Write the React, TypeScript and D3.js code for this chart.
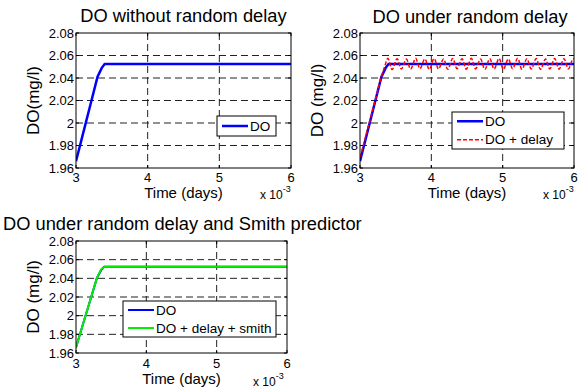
import React from "react";
import * as d3 from "d3";

// ---------- data ----------
const xTicks = [3, 4, 5, 6];
const yTicks = [1.96, 1.98, 2, 2.02, 2.04, 2.06, 2.08];
const yTickLabels = ["1.96", "1.98", "2", "2.02", "2.04", "2.06", "2.08"];
const xTickLabels = ["3", "4", "5", "6"];

const doTime = [3.0, 3.1, 3.2, 3.3, 3.36, 3.4, 6.0];
const doValue = [1.966, 1.991, 2.016, 2.041, 2.049, 2.0525, 2.0525];

const delayTime = [
  3.0, 3.1, 3.2, 3.3, 3.35, 3.39,
  3.45, 3.52, 3.58, 3.65, 3.71, 3.78, 3.84, 3.91, 3.97, 4.04,
  4.10, 4.17, 4.23, 4.30, 4.36, 4.43, 4.49, 4.56, 4.62, 4.69,
  4.75, 4.82, 4.88, 4.95, 5.01, 5.08, 5.14, 5.21, 5.27, 5.34,
  5.40, 5.47, 5.53, 5.60, 5.66, 5.73, 5.79, 5.86, 5.92, 5.99, 6.0,
];
const delayValue = [
  1.969, 1.993, 2.017, 2.041, 2.051, 2.0575,
  2.0475, 2.0572, 2.048, 2.0568, 2.0478, 2.0575, 2.0482, 2.057, 2.0476, 2.0573,
  2.048, 2.0569, 2.0477, 2.0574, 2.0483, 2.0571, 2.0478, 2.0575, 2.0481, 2.0568,
  2.0476, 2.0572, 2.048, 2.0574, 2.0478, 2.057, 2.0482, 2.0575, 2.0477, 2.0571,
  2.048, 2.0573, 2.0476, 2.0569, 2.0481, 2.0574, 2.0478, 2.0572, 2.048, 2.057, 2.0565,
];

const smithTime = [3.0, 3.1, 3.2, 3.3, 3.36, 3.41, 6.0];
const smithValue = [1.966, 1.991, 2.016, 2.041, 2.05, 2.0525, 2.0525];

const titles = [
  "DO without random delay",
  "DO under random delay",
  "DO under random delay and Smith predictor",
];
const yLabels = ["DO(mg/l)", "DO (mg/l)", "DO (mg/l)"];
const xLabel = "Time (days)";
const legend1 = ["DO"];
const legend2 = ["DO", "DO + delay"];
const legend3 = ["DO", "DO + delay + smith"];

// ---------- styling ----------
const FONT = "'Liberation Sans', Arial, Helvetica, sans-serif";
const BLUE = "#0000ff";
const RED = "#ff0000";
const GREEN = "#00f000";

type Series = { t: number[]; v: number[]; color: string; width: number; dash?: string; curve?: any };

type PanelProps = {
  left: number; right: number; top: number; bottom: number;
  title: string; titleX: number; titleY: number; titleAnchor: string;
  yLabel: string; yLabelX: number;
  xTickDy: number; xLabelDy: number; expDy: number; expX: number;
  series: Series[];
  legendNames: string[];
  legend: { x: number; y: number; w: number; h: number };
};

function Panel(p: PanelProps) {
  const x = d3.scaleLinear().domain([3, 6]).range([p.left, p.right]);
  const y = d3.scaleLinear().domain([1.96, 2.08]).range([p.bottom, p.top]);
  const innerX = xTicks.slice(1, -1);
  const innerY = yTicks.slice(1, -1);
  const clipId = "clip" + p.left + "_" + p.top;
  const tickLen = 3;
  return (
    <g>
      <defs>
        <clipPath id={clipId}>
          <rect x={p.left} y={p.top} width={p.right - p.left} height={p.bottom - p.top} />
        </clipPath>
      </defs>
      <rect x={p.left} y={p.top} width={p.right - p.left} height={p.bottom - p.top} fill="#fff" />
      {/* grid */}
      {innerX.map((t) => (
        <line key={"gx" + t} x1={x(t)} x2={x(t)} y1={p.top} y2={p.bottom}
          stroke="#222" strokeWidth={1} strokeDasharray="7,4" />
      ))}
      {innerY.map((v) => (
        <line key={"gy" + v} x1={p.left} x2={p.right} y1={y(v)} y2={y(v)}
          stroke="#222" strokeWidth={1} strokeDasharray="7,4" />
      ))}
      {/* series */}
      <g clipPath={`url(#${clipId})`}>
        {p.series.map((s, i) => {
          const pts = s.t.map((t, j) => [t, s.v[j]] as [number, number]);
          const gen = d3.line<[number, number]>().x((d) => x(d[0])).y((d) => y(d[1]))
            .curve(s.curve || d3.curveLinear);
          return (
            <path key={i} d={gen(pts) || ""} fill="none" stroke={s.color}
              strokeWidth={s.width} strokeDasharray={s.dash} strokeLinejoin="round" />
          );
        })}
      </g>
      {/* ticks */}
      {xTicks.map((t) => (
        <g key={"tx" + t}>
          <line x1={x(t)} x2={x(t)} y1={p.bottom} y2={p.bottom - tickLen} stroke="#000" />
          <line x1={x(t)} x2={x(t)} y1={p.top} y2={p.top + tickLen} stroke="#000" />
        </g>
      ))}
      {yTicks.map((v) => (
        <g key={"ty" + v}>
          <line x1={p.left} x2={p.left + tickLen} y1={y(v)} y2={y(v)} stroke="#000" />
          <line x1={p.right} x2={p.right - tickLen} y1={y(v)} y2={y(v)} stroke="#000" />
        </g>
      ))}
      <rect x={p.left} y={p.top} width={p.right - p.left} height={p.bottom - p.top}
        fill="none" stroke="#000" strokeWidth={1} />
      {/* tick labels */}
      {xTicks.map((t, i) => (
        <text key={"lx" + t} x={x(t)} y={p.bottom + p.xTickDy} textAnchor="middle"
          fontSize={13} fontFamily={FONT}>{xTickLabels[i]}</text>
      ))}
      {yTicks.map((v, i) => (
        <text key={"ly" + v} x={p.left - 2} y={y(v)} textAnchor="end" dominantBaseline="central"
          fontSize={13} fontFamily={FONT}>{yTickLabels[i]}</text>
      ))}
      {/* labels */}
      <text x={p.titleX} y={p.titleY} textAnchor={p.titleAnchor} fontSize={18.3} fontFamily={FONT}>{p.title}</text>
      <text transform={`translate(${p.yLabelX},${(p.top + p.bottom) / 2}) rotate(-90)`}
        textAnchor="middle" dominantBaseline="central" fontSize={17} fontFamily={FONT}>{p.yLabel}</text>
      <text x={(p.left + p.right) / 2} y={p.bottom + p.xLabelDy} textAnchor="middle"
        fontSize={15} fontFamily={FONT}>{xLabel}</text>
      <text x={p.expX} y={p.bottom + p.expDy} fontSize={12} fontFamily={FONT}>
        x 10<tspan dy={-7} fontSize={9}>-3</tspan>
      </text>
      {/* legend */}
      <rect x={p.legend.x} y={p.legend.y} width={p.legend.w} height={p.legend.h}
        fill="#fff" stroke="#000" strokeWidth={1} />
      {p.legendNames.map((name, i) => {
        const s = p.series[i];
        const rowH = p.legend.h / p.legendNames.length;
        const cy = p.legend.y + rowH * (i + 0.5);
        return (
          <g key={name}>
            <line x1={p.legend.x + 5} x2={p.legend.x + 31} y1={cy} y2={cy}
              stroke={s.color} strokeWidth={s.width} strokeDasharray={s.dash} />
            <text x={p.legend.x + 33} y={cy} dominantBaseline="central" fontSize={13.5}
              fontFamily={FONT}>{name}</text>
          </g>
        );
      })}
    </g>
  );
}

export default function App() {
  return (
    <svg width={579} height={389} style={{ position: "absolute", left: 0, top: 0, background: "#fff" }}>
      <rect width={579} height={389} fill="#fff" />
      <Panel left={76} right={291} top={33} bottom={168}
        title={titles[0]} titleX={183.5} titleY={22} titleAnchor="middle"
        yLabel={yLabels[0]} yLabelX={33}
        xTickDy={14} xLabelDy={30} expDy={31} expX={260}
        series={[{ t: doTime, v: doValue, color: BLUE, width: 2.5 }]}
        legendNames={legend1}
        legend={{ x: 217, y: 116, w: 59, h: 20 }} />
      <Panel left={360} right={574} top={33} bottom={168}
        title={titles[1]} titleX={470} titleY={23} titleAnchor="middle"
        yLabel={yLabels[1]} yLabelX={317}
        xTickDy={14} xLabelDy={30} expDy={31} expX={543}
        series={[
          { t: doTime, v: doValue, color: BLUE, width: 2.5 },
          { t: delayTime, v: delayValue, color: RED, width: 1.5, dash: "4,2", curve: d3.curveMonotoneX },
        ]}
        legendNames={legend2}
        legend={{ x: 452, y: 112, w: 112, h: 37 }} />
      <Panel left={76} right={287} top={241} bottom={353}
        title={titles[2]} titleX={3} titleY={230} titleAnchor="start"
        yLabel={yLabels[2]} yLabelX={33}
        xTickDy={15} xLabelDy={31} expDy={33} expX={253}
        series={[
          { t: doTime, v: doValue, color: BLUE, width: 2 },
          { t: smithTime, v: smithValue, color: GREEN, width: 2 },
        ]}
        legendNames={legend3}
        legend={{ x: 123, y: 301, w: 153, h: 36 }} />
    </svg>
  );
}
